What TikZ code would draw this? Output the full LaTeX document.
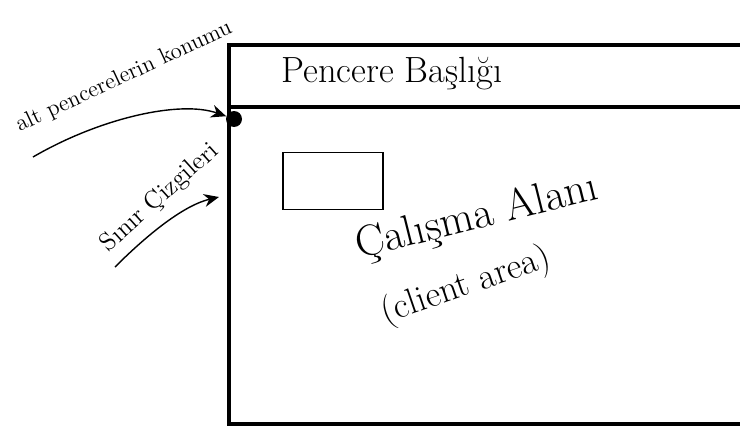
\documentclass[tikz,border=0pt]{standalone}
\usetikzlibrary{positioning,arrows.meta}
\tikzset{
  winline/.style={line width=2.3pt},
  sketcharrow/.style={-{Stealth[length=3mm,width=2.6mm]}, thick},
  handtext/.style={inner sep=1pt, align=center},
  childbox/.style={draw, thick, minimum width=2cm, minimum height=1.14cm},
  cornerdot/.style={circle, fill, inner sep=0pt, minimum size=0.32cm}
}

\begin{document}
\begin{tikzpicture}[x=0.02cm, y=-0.02cm]
  \useasboundingbox (0,0) rectangle (740,426);
  % window frame (runs off to the right)
  \coordinate (winTL) at (229,45);
  \coordinate (winBL) at (229,424);
  \coordinate (barL) at (229,107);
  \draw[winline] (745,45) -- (winTL) -- (winBL) -- (745,424);
  \draw[winline] (barL) -- (745,107);
  \node[handtext, font=\huge] (title) at (392,74) {Pencere Başlığı};
  % client area
  \node[cornerdot] (corner) at (234,119) {};
  \node[childbox] (child) at (333,181) {};
  \node[handtext, font=\Huge, rotate=14] (client) at (477,218) {Çalışma Alanı};
  \node[handtext, font=\huge, rotate=19] (clienten) at (466,286) {(client area)};
  % notes on the left
  \node[handtext, font=\fontsize{13}{15}\selectfont, rotate=25] (posnote) at (124,77) {alt pencerelerin konumu};
  \node[handtext, font=\Large, rotate=42] (bordernote) at (160,198) {Sınır Çizgileri};
  \coordinate (posStart) at (33,157);
  \coordinate (borderStart) at (115,267);
  \coordinate (leftEdge) at (219,197);
  \draw[sketcharrow] (posStart) .. controls (100,118) and (180,100) .. (corner);
  \draw[sketcharrow] (borderStart) .. controls (150,232) and (185,205) .. (leftEdge);
\end{tikzpicture}
\end{document}
